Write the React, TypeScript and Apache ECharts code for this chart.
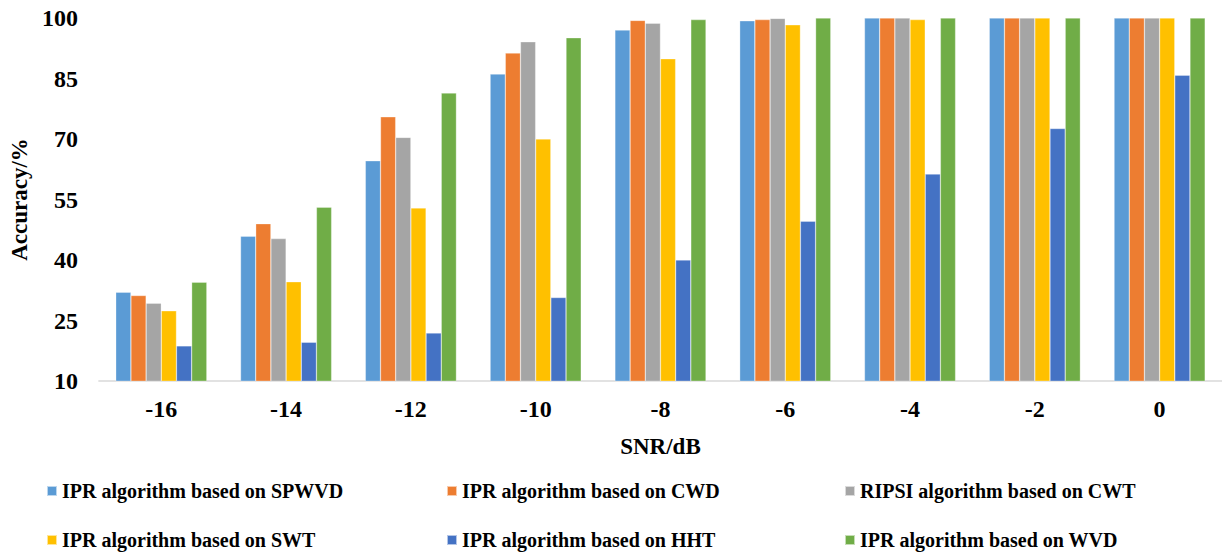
import React, { useEffect, useRef } from "react";
import * as echarts from "echarts";

const categories = ["-16", "-14", "-12", "-10", "-8", "-6", "-4", "-2", "0"];
const yTicks = [10, 25, 40, 55, 70, 85, 100];

const seriesNames = [
  "IPR algorithm based on SPWVD",
  "IPR algorithm based on CWD",
  "RIPSI algorithm based on CWT",
  "IPR algorithm based on SWT",
  "IPR algorithm based on HHT",
  "IPR algorithm based on WVD",
];
const colors = ["#5B9BD5", "#ED7D31", "#A5A5A5", "#FFC000", "#4472C4", "#70AD47"];

const spwvd = [32.0, 45.9, 64.6, 86.1, 97.0, 99.3, 100, 100, 100];
const cwd = [31.2, 49.0, 75.5, 91.3, 99.4, 99.6, 100, 100, 100];
const ripsiCwt = [29.3, 45.3, 70.4, 94.1, 98.7, 99.9, 100, 100, 100];
const swt = [27.4, 34.6, 52.9, 70.0, 89.9, 98.3, 99.6, 100, 100];
const hht = [18.7, 19.6, 21.9, 30.7, 40.0, 49.6, 61.3, 72.6, 85.8];
const wvd = [34.5, 53.1, 81.4, 95.1, 99.6, 100, 100, 100, 100];

const seriesData = [spwvd, cwd, ripsiCwt, swt, hht, wvd];

const FONT = "Liberation Serif";

export default function App() {
  const ref = useRef<HTMLDivElement>(null);
  useEffect(() => {
    if (!ref.current) return;
    const chart = echarts.init(ref.current, undefined, { renderer: "svg" });
    const legendPos = [
      { left: 46, top: 481 },
      { left: 446, top: 481 },
      { left: 844, top: 481 },
      { left: 46, top: 530 },
      { left: 446, top: 530 },
      { left: 844, top: 530 },
    ];
    chart.setOption({
      animation: false,
      backgroundColor: "#ffffff",
      color: colors,
      textStyle: { fontFamily: FONT },
      grid: { left: 97, top: 18, width: 1133, height: 363, containLabel: false },
      legend: seriesNames.map((n, i) => ({
        data: [n],
        left: legendPos[i].left,
        top: legendPos[i].top,
        padding: 0,
        itemWidth: 10,
        itemHeight: 10,
        icon: "rect",
        selectedMode: false,
        textStyle: { fontFamily: FONT, fontSize: 20, fontWeight: "bold", color: "#000" },
      })),
      xAxis: {
        type: "category",
        data: categories,
        name: "SNR/dB",
        nameLocation: "middle",
        nameGap: 54,
        nameTextStyle: { fontFamily: FONT, fontSize: 23, fontWeight: "bold", color: "#000" },
        axisLine: { lineStyle: { color: "#D9D9D9", width: 1.5 } },
        axisTick: { show: false },
        axisLabel: { fontFamily: FONT, fontSize: 24, fontWeight: "bold", color: "#000", margin: 16 },
      },
      yAxis: {
        type: "value",
        min: 10,
        max: 100,
        name: "Accuracy/%",
        nameLocation: "middle",
        nameGap: 66,
        nameTextStyle: { fontFamily: FONT, fontSize: 23, fontWeight: "bold", color: "#000" },
        axisLine: { show: false },
        axisTick: { show: false },
        splitLine: { show: false },
        axisLabel: {
          customValues: yTicks,
          fontFamily: FONT,
          fontSize: 24,
          fontWeight: "bold",
          color: "#000",
          margin: 21,
        },
      },
      series: seriesNames.map((n, i) => ({
        name: n,
        type: "bar",
        data: seriesData[i],
        barGap: "0%",
        barCategoryGap: "27%",
        itemStyle: { color: colors[i], borderColor: "rgba(255,255,255,0.6)", borderWidth: 0.5 },
      })),
    });
    return () => chart.dispose();
  }, []);
  return (
    <div
      ref={ref}
      style={{ position: "absolute", left: 0, top: 0, width: 1222, height: 556 }}
    />
  );
}
